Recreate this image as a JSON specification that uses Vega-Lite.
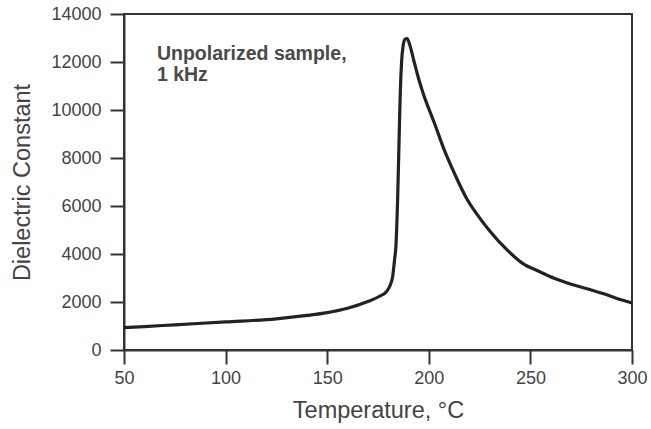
{
  "$schema": "https://vega.github.io/schema/vega-lite/v6.json",
  "width": 508,
  "height": 336,
  "autosize": {"type": "none"},
  "padding": {"left": 124, "top": 14, "right": 19, "bottom": 79},
  "background": "white",
  "config": {
    "font": "Liberation Sans",
    "view": {"stroke": "#333", "strokeWidth": 2},
    "axis": {
      "grid": false,
      "domainColor": "#333",
      "domainWidth": 2,
      "tickColor": "#333",
      "tickWidth": 2,
      "tickSize": 14,
      "labelFontSize": 18,
      "labelColor": "#444",
      "labelFlush": false,
      "titleFontSize": 23.5,
      "titleFontWeight": "normal",
      "titleColor": "#444"
    }
  },
  "layer": [
    {
      "data": {
        "values": [
          {"temperature": 50, "dielectric": 930},
          {"temperature": 60, "dielectric": 975},
          {"temperature": 75, "dielectric": 1050},
          {"temperature": 100, "dielectric": 1170},
          {"temperature": 125, "dielectric": 1300},
          {"temperature": 140, "dielectric": 1440},
          {"temperature": 150, "dielectric": 1560},
          {"temperature": 160, "dielectric": 1740},
          {"temperature": 170, "dielectric": 2020},
          {"temperature": 176, "dielectric": 2250},
          {"temperature": 179, "dielectric": 2420},
          {"temperature": 181, "dielectric": 2700},
          {"temperature": 182.2, "dielectric": 3050},
          {"temperature": 183.2, "dielectric": 3800},
          {"temperature": 183.8, "dielectric": 4300},
          {"temperature": 184.7, "dielectric": 6400},
          {"temperature": 185.5, "dielectric": 9190},
          {"temperature": 186.0, "dielectric": 10800},
          {"temperature": 186.6, "dielectric": 12000},
          {"temperature": 187.4, "dielectric": 12700},
          {"temperature": 188.3, "dielectric": 12950},
          {"temperature": 189.3, "dielectric": 12980},
          {"temperature": 190.5, "dielectric": 12750},
          {"temperature": 192.8, "dielectric": 12000},
          {"temperature": 195, "dielectric": 11300},
          {"temperature": 197.7, "dielectric": 10570},
          {"temperature": 200, "dielectric": 10050},
          {"temperature": 202.6, "dielectric": 9490},
          {"temperature": 207.5, "dielectric": 8360},
          {"temperature": 212.4, "dielectric": 7400},
          {"temperature": 218.9, "dielectric": 6270},
          {"temperature": 224, "dielectric": 5620},
          {"temperature": 230, "dielectric": 4960},
          {"temperature": 238.4, "dielectric": 4180},
          {"temperature": 246, "dielectric": 3620},
          {"temperature": 254.6, "dielectric": 3260},
          {"temperature": 262, "dielectric": 2980},
          {"temperature": 270.9, "dielectric": 2720},
          {"temperature": 280, "dielectric": 2500},
          {"temperature": 287.6, "dielectric": 2300},
          {"temperature": 295, "dielectric": 2080},
          {"temperature": 300, "dielectric": 1960}
        ]
      },
      "mark": {"type": "line", "interpolate": "monotone", "color": "#222", "strokeWidth": 3.2},
      "encoding": {
        "x": {
          "field": "temperature",
          "type": "quantitative",
          "scale": {"domain": [50, 300], "nice": false, "zero": false},
          "axis": {"values": [50, 100, 150, 200, 250, 300], "title": "Temperature, °C", "labelPadding": 5, "titlePadding": 11}
        },
        "y": {
          "field": "dielectric",
          "type": "quantitative",
          "scale": {"domain": [0, 14000], "nice": false},
          "axis": {"values": [0, 2000, 4000, 6000, 8000, 10000, 12000, 14000], "format": "d", "title": "Dielectric Constant", "labelPadding": 9, "titlePadding": 16}
        }
      }
    },
    {
      "data": {"values": [{"label": ["Unpolarized sample,", "1 kHz"]}]},
      "mark": {"type": "text", "align": "left", "baseline": "alphabetic", "fontSize": 19.5, "fontWeight": "bold", "color": "#4a4a4a", "lineHeight": 21},
      "encoding": {
        "x": {"datum": 66.2},
        "y": {"datum": 12080},
        "text": {"field": "label"}
      }
    }
  ]
}
